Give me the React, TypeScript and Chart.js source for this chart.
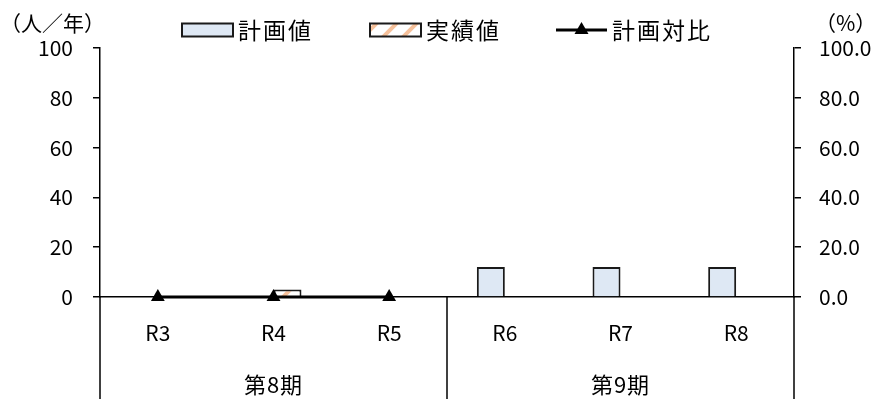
import React, { useEffect, useRef } from "react";
import { Chart, registerables } from "chart.js";

Chart.register(...registerables);

const categories = ["R3", "R4", "R5", "R6", "R7", "R8"];
const periodLabels = ["第8期", "第9期"];
const periodSpans = [3, 3];
const plannedValues: (number | null)[] = [0, 0, 0, 12, 12, 12];
const actualValues: (number | null)[] = [0, 3, 0, null, null, null];
const ratioValues: (number | null)[] = [0, 0, 0, null, null, null];
const leftAxisTitle = "（人／年）";
const rightAxisTitle = "（%）";
const seriesNames = ["計画値", "実績値", "計画対比"];
const axisMax = 100;
const axisStep = 20;

const FONT = "'Noto Sans CJK JP', 'Noto Sans', sans-serif";
const PLAN_FILL = "#DEE8F4";
const EDGE = "#1a1a1a";
const STRIPE = "#F6C19B";

function makeHatch(): CanvasPattern | string {
  const c = document.createElement("canvas");
  c.width = 20;
  c.height = 20;
  const g = c.getContext("2d");
  if (!g) return "#fff";
  g.fillStyle = "#ffffff";
  g.fillRect(0, 0, 20, 20);
  g.strokeStyle = STRIPE;
  g.lineWidth = 4;
  g.beginPath();
  g.moveTo(0, 20);
  g.lineTo(20, 0);
  g.moveTo(-10, 10);
  g.lineTo(10, -10);
  g.moveTo(10, 30);
  g.lineTo(30, 10);
  g.stroke();
  const p = g.createPattern(c, "repeat");
  return p || "#fff";
}

export default function App() {
  const ref = useRef<HTMLCanvasElement | null>(null);
  useEffect(() => {
    if (!ref.current) return;
    const hatch = makeHatch();

    const overlay = {
      id: "overlay",
      afterDraw(chart: any) {
        const ctx = chart.ctx as CanvasRenderingContext2D;
        const xs = chart.scales.x;
        const area = chart.chartArea;
        const half = (xs.getPixelForValue(1) - xs.getPixelForValue(0)) / 2;
        ctx.save();
        ctx.strokeStyle = "#000";
        ctx.lineWidth = 1.5;
        let start = 0;
        const bounds: number[] = [xs.getPixelForValue(0) - half];
        periodSpans.forEach((n) => {
          start += n;
          bounds.push(xs.getPixelForValue(start - 1) + half);
        });
        bounds.forEach((b) => {
          ctx.beginPath();
          ctx.moveTo(b, area.bottom);
          ctx.lineTo(b, chart.height);
          ctx.stroke();
        });
        ctx.fillStyle = "#000";
        ctx.font = `22px ${FONT}`;
        ctx.textAlign = "center";
        ctx.textBaseline = "middle";
        (ctx as any).letterSpacing = "1px";
        periodLabels.forEach((lab, i) => {
          ctx.fillText(lab, (bounds[i] + bounds[i + 1]) / 2, 385);
        });
        (ctx as any).letterSpacing = "0px";
        ctx.font = `21px ${FONT}`;
        ctx.textAlign = "left";
        ctx.fillText(leftAxisTitle, 0, 23);
        ctx.fillText(rightAxisTitle, 815, 23);
        const ly = 30;
        const items = [
          { x: 182, kind: "plan" },
          { x: 370, kind: "act" },
          { x: 556, kind: "line" },
        ];
        ctx.font = `23px ${FONT}`;
        (ctx as any).letterSpacing = "2px";
        items.forEach((it, i) => {
          if (it.kind === "plan" || it.kind === "act") {
            ctx.fillStyle = it.kind === "plan" ? PLAN_FILL : (hatch as any);
            ctx.fillRect(it.x, ly - 6.5, 51, 13);
            ctx.strokeStyle = EDGE;
            ctx.lineWidth = 2;
            ctx.strokeRect(it.x, ly - 6.5, 51, 13);
          } else {
            ctx.strokeStyle = "#000";
            ctx.lineWidth = 3;
            ctx.beginPath();
            ctx.moveTo(it.x, ly);
            ctx.lineTo(it.x + 51, ly);
            ctx.stroke();
            ctx.fillStyle = "#000";
            const cx = it.x + 25.5;
            ctx.beginPath();
            ctx.moveTo(cx, ly - 8);
            ctx.lineTo(cx + 7, ly + 4);
            ctx.lineTo(cx - 7, ly + 4);
            ctx.closePath();
            ctx.fill();
          }
          ctx.fillStyle = "#000";
          ctx.textAlign = "left";
          ctx.fillText(seriesNames[i], it.x + 56, ly);
        });
        (ctx as any).letterSpacing = "0px";
        ctx.restore();
      },
    };

    const tickFont = { family: FONT, size: 21 };
    const chart = new Chart(ref.current, {
      type: "bar",
      data: {
        labels: categories,
        datasets: [
          {
            type: "line",
            label: seriesNames[2],
            data: ratioValues,
            yAxisID: "y1",
            borderColor: "#000",
            backgroundColor: "#000",
            borderWidth: 3,
            pointStyle: "triangle",
            pointRadius: 8,
            pointBackgroundColor: "#000",
            pointBorderColor: "#000",
            pointBorderWidth: 0,
            spanGaps: false,
            clip: false,
            order: 0,
          } as any,
          {
            type: "bar",
            label: seriesNames[0],
            data: plannedValues,
            yAxisID: "y",
            backgroundColor: PLAN_FILL,
            borderColor: EDGE,
            borderWidth: 2,
            categoryPercentage: 0.484,
            barPercentage: 1,
            order: 1,
          },
          {
            type: "bar",
            label: seriesNames[1],
            data: actualValues,
            yAxisID: "y",
            backgroundColor: hatch as any,
            borderColor: EDGE,
            borderWidth: 2,
            categoryPercentage: 0.484,
            barPercentage: 1,
            order: 1,
          },
        ],
      },
      options: {
        responsive: false,
        animation: false,
        layout: { padding: { top: 48, left: 0, right: 0, bottom: 0 } },
        plugins: {
          legend: { display: false },
          tooltip: { enabled: false },
        },
        scales: {
          x: {
            type: "category",
            offset: true,
            grid: { display: false, drawTicks: false },
            border: { display: true, color: "#000", width: 1.5 },
            ticks: { font: tickFont, color: "#000", padding: 23, maxRotation: 0 },
            afterFit(s: any) {
              s.height = 102;
            },
          },
          y: {
            position: "left",
            min: 0,
            max: axisMax,
            ticks: { stepSize: axisStep, font: tickFont, color: "#000", padding: 20 },
            grid: { display: true, drawOnChartArea: false, drawTicks: true, tickLength: 7, color: "#000", lineWidth: 1.5 },
            border: { display: true, color: "#000", width: 1.5 },
            afterFit(s: any) {
              s.width = 100;
            },
          },
          y1: {
            position: "right",
            min: 0,
            max: axisMax,
            ticks: {
              stepSize: axisStep,
              font: tickFont,
              color: "#000",
              padding: 18,
              callback: (v: any) => Number(v).toFixed(1),
            },
            grid: { display: true, drawOnChartArea: false, drawTicks: true, tickLength: 7, color: "#000", lineWidth: 1.5 },
            border: { display: true, color: "#000", width: 1.5 },
            afterFit(s: any) {
              s.width = 88;
            },
          },
        },
      } as any,
      plugins: [overlay],
    });
    return () => chart.destroy();
  }, []);
  return (
    <div style={{ position: "absolute", left: 0, top: 0, width: 882, height: 399, background: "#fff" }}>
      <canvas ref={ref} width={882} height={399} style={{ display: "block" }} />
    </div>
  );
}
